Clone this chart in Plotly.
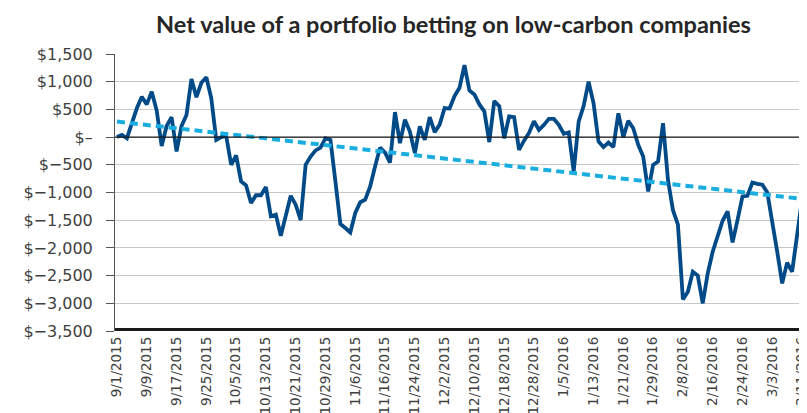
import pandas as pd
import plotly.graph_objects as go

# weekdays 9/1/2015 .. 3/11/2016
dates = pd.bdate_range("2015-09-01", "2016-03-11")
date_labels = [f"{d.month}/{d.day}/{d.year}" for d in dates]

net_value = [
    0, 40, -20, 280, 520, 730, 590, 820, 480, -160,
    200, 360, -260, 200, 400, 1050, 720, 980, 1080, 700,
    -50, 0, 20, -500, -330, -800, -870, -1190, -1050, -1050,
    -900, -1430, -1400, -1780, -1430, -1060, -1220, -1500, -500, -350,
    -240, -190, -20, -50, -800, -1570, -1640, -1720, -1370, -1175,
    -1130, -890, -525, -190, -280, -460, 450, -110, 315, 100,
    -290, 195, -50, 360, 90, 225, 525, 515, 740, 890,
    1300, 840, 770, 590, 465, -90, 650, 560, -20, 375,
    360, -230, -65, 75, 285, 130, 220, 330, 330, 220,
    60, 85, -620, 280, 560, 1000, 615, -80, -180, -100,
    -180, 430, 0, 295, 160, -140, -350, -980, -500, -440,
    250, -780, -1320, -1580, -2930, -2790, -2430, -2500, -3000, -2460,
    -2070, -1765, -1510, -1340, -1900, -1500, -1070, -1060, -820, -845,
    -860, -1000, -1500, -2070, -2640, -2265, -2430, -1765, -1120,
]

# linear trend, start and end values
trend_ends = [280, -1115]

tick_labels = [
    "9/1/2015", "9/9/2015", "9/17/2015", "9/25/2015", "10/5/2015", "10/13/2015",
    "10/21/2015", "10/29/2015", "11/6/2015", "11/16/2015", "11/24/2015", "12/2/2015",
    "12/10/2015", "12/18/2015", "12/28/2015", "1/5/2016", "1/13/2016", "1/21/2016",
    "1/29/2016", "2/8/2016", "2/16/2016", "2/24/2016", "3/3/2016", "3/11/2016",
]

y_vals = [1500, 1000, 500, 0, -500, -1000, -1500, -2000, -2500, -3000, -3500]
y_text = ["$1,500", "$1,000", "$500", "$\u2013", "$\u2212500", "$\u22121,000",
          "$\u22121,500", "$\u22122,000", "$\u22122,500", "$\u22123,000", "$\u22123,500"]

fig = go.Figure()

fig.add_trace(go.Scatter(
    x=date_labels, y=net_value, mode="lines",
    line=dict(color="#004a87", width=3.8),
    showlegend=False, hoverinfo="skip",
))

fig.add_trace(go.Scatter(
    x=[date_labels[0], date_labels[-1]], y=trend_ends, mode="lines",
    line=dict(color="#1aaee0", width=4, dash="8px,5px"),
    showlegend=False, hoverinfo="skip",
))

# zero line and heavy baseline
fig.add_shape(type="line", xref="paper", x0=0, x1=1, y0=0, y1=0,
              line=dict(color="#1a1a1a", width=1.2), layer="above")
fig.add_shape(type="line", xref="paper", x0=0, x1=0.997, y0=-3500, y1=-3500,
              line=dict(color="#1a1a1a", width=6), layer="above")

# page body has an 8px margin, so the figure is sized to end at the window edge
fig.update_layout(
    width=799, height=405,
    margin=dict(l=107, r=0, t=46, b=82),
    paper_bgcolor="white", plot_bgcolor="white",
    font=dict(family="DejaVu Sans", color="#404040"),
    title=dict(
        text="<b>Net value of a portfolio betting on low-carbon companies</b>",
        x=0.5576, xanchor="center", y=0.958, yanchor="middle",
        font=dict(family="Lato", size=23.5, color="#262626"),
    ),
)

fig.update_xaxes(
    type="category", range=[-0.4, 139.0],
    tickmode="array", tickvals=tick_labels, ticktext=tick_labels,
    tickangle=-90, tickfont=dict(family="DejaVu Sans", size=13.5, color="#404040"),
    ticklabelstandoff=2,
    showgrid=False, ticks="", automargin=False, fixedrange=True,
)
fig.update_yaxes(
    range=[-3500, 1500], tickmode="array", tickvals=y_vals, ticktext=y_text,
    tickfont=dict(family="DejaVu Sans", size=16, color="#404040"),
    ticklabelstandoff=10,
    showgrid=True, gridcolor="#c8c8c8", gridwidth=1,
    zeroline=False, showline=True, linecolor="#555555", linewidth=1,
    ticks="outside", ticklen=8, tickcolor="#555555",
    automargin=False, fixedrange=True,
)

fig.write_html("out.html")
